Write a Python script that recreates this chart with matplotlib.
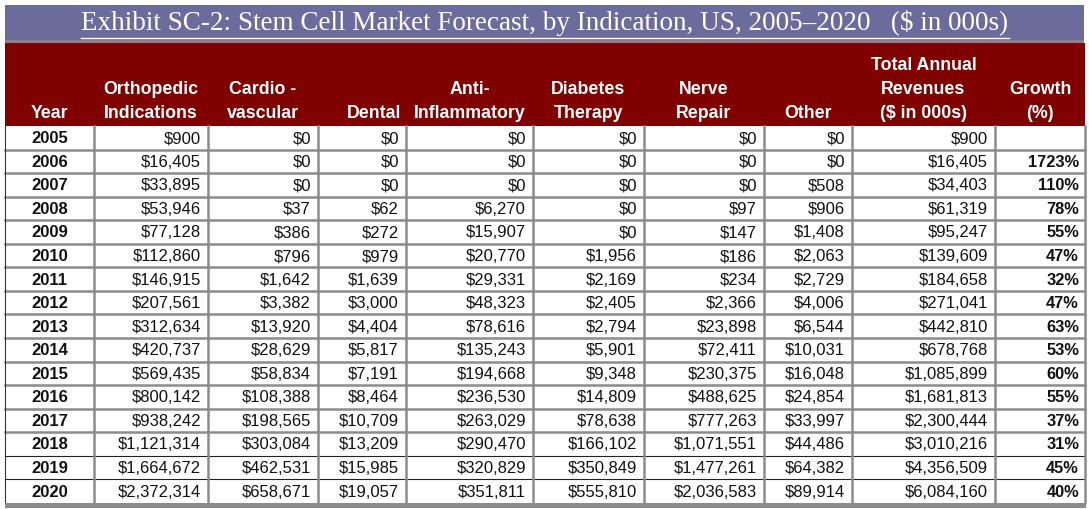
import matplotlib
matplotlib.use('Agg')
import matplotlib.pyplot as plt
from matplotlib.patches import Rectangle

# data (in $000s)
years = [2005, 2006, 2007, 2008, 2009, 2010, 2011, 2012,
         2013, 2014, 2015, 2016, 2017, 2018, 2019, 2020]
orthopedic = [900, 16405, 33895, 53946, 77128, 112860, 146915, 207561,
              312634, 420737, 569435, 800142, 938242, 1121314, 1664672, 2372314]
cardio = [0, 0, 0, 37, 386, 796, 1642, 3382,
          13920, 28629, 58834, 108388, 198565, 303084, 462531, 658671]
dental = [0, 0, 0, 62, 272, 979, 1639, 3000,
          4404, 5817, 7191, 8464, 10709, 13209, 15985, 19057]
anti_inflammatory = [0, 0, 0, 6270, 15907, 20770, 29331, 48323,
                     78616, 135243, 194668, 236530, 263029, 290470, 320829, 351811]
diabetes = [0, 0, 0, 0, 0, 1956, 2169, 2405,
            2794, 5901, 9348, 14809, 78638, 166102, 350849, 555810]
nerve_repair = [0, 0, 0, 97, 147, 186, 234, 2366,
                23898, 72411, 230375, 488625, 777263, 1071551, 1477261, 2036583]
other = [0, 0, 508, 906, 1408, 2063, 2729, 4006,
         6544, 10031, 16048, 24854, 33997, 44486, 64382, 89914]
total = [900, 16405, 34403, 61319, 95247, 139609, 184658, 271041,
         442810, 678768, 1085899, 1681813, 2300444, 3010216, 4356509, 6084160]
growth = [None, 1723, 110, 78, 55, 47, 32, 47, 63, 53, 60, 55, 37, 31, 45, 40]

headers = [["Year"], ["Orthopedic", "Indications"], ["Cardio -", "vascular"],
           ["Dental"], ["Anti-", "Inflammatory"], ["Diabetes", "Therapy"],
           ["Nerve", "Repair"], ["Other"], ["Total Annual", "Revenues", "($ in 000s)"],
           ["Growth", "(%)"]]
title = "Exhibit SC-2: Stem Cell Market Forecast, by Indication, US, 2005\u20132020   ($ in 000s)"

# layout in pixel units
W, H = 1089, 509
col_x = [5, 94, 208, 318, 406, 533, 644, 764, 852, 995, 1085]
head_top, body_top, row_h = 43, 126, 23.55
sans = 'Liberation Sans'

fig = plt.figure(figsize=(W / 100, H / 100), dpi=100)
ax = fig.add_axes([0, 0, 1, 1])
ax.set_xlim(0, W)
ax.set_ylim(H, 0)
ax.axis('off')

# title banner
ax.add_patch(Rectangle((5, 5), 1079, 35, color='#6c6c9c', lw=0))
ax.add_patch(Rectangle((5, 40), 1079, 3, color='#8a8090', lw=0))
t = ax.text(545, 23, title, color='white', fontsize=19.5, family='Liberation Serif',
            ha='center', va='center')
fig.canvas.draw()
bb = t.get_window_extent().transformed(ax.transData.inverted())
ax.plot([bb.x0, bb.x1], [37.5, 37.5], color='white', lw=1)

# header
ax.add_patch(Rectangle((5, head_top), 1080, body_top - head_top, color='#800000', lw=0))
for i, lines in enumerate(headers):
    cx = (col_x[i] + col_x[i + 1]) / 2
    ha = 'center'
    if lines == ["Dental"]:
        cx, ha = col_x[i + 1] - 5, 'right'
    for k, s in enumerate(reversed(lines)):
        ax.text(cx, 113 - 24 * k, s, color='white', fontsize=12.8, fontweight='bold',
                family=sans, ha=ha, va='center')

# body
money_cols = [orthopedic, cardio, dental, anti_inflammatory, diabetes,
              nerve_repair, other, total]
n = len(years)
for r in range(n):
    yc = body_top + (r + 0.5) * row_h + 1
    ax.text((col_x[0] + col_x[1]) / 2, yc, str(years[r]), fontsize=12,
            fontweight='bold', family=sans, ha='center', va='center', color='#111111')
    for c, vals in enumerate(money_cols):
        ax.text(col_x[c + 2] - 7, yc, f"${vals[r]:,}", fontsize=12, family=sans,
                ha='right', va='center', color='#111111')
    if growth[r] is not None:
        ax.text(col_x[-1] - 6, yc, f"{growth[r]}%", fontsize=11.8, fontweight='bold',
                family=sans, ha='right', va='center', color='#111111')

# grid lines
body_bot = body_top + n * row_h
for r in range(1, n):
    y = body_top + r * row_h
    if r >= n - 2:
        ax.plot([5, col_x[-1]], [y, y], color='#222222', lw=0.8, zorder=3)
    else:
        ax.plot([5, col_x[-1]], [y, y], color='#8c8c8c', lw=1.8, zorder=3)
for x in col_x[1:]:
    ax.plot([x, x], [body_top, body_bot], color='#8c8c8c', lw=1.8, zorder=4)
ax.plot([5, 5], [body_top, body_bot], color='#333333', lw=0.8, zorder=4)
ax.add_patch(Rectangle((5, body_bot), 1081, 5, color='#8c8c8c', lw=0, zorder=4))

fig.savefig('out.png', dpi=100)
